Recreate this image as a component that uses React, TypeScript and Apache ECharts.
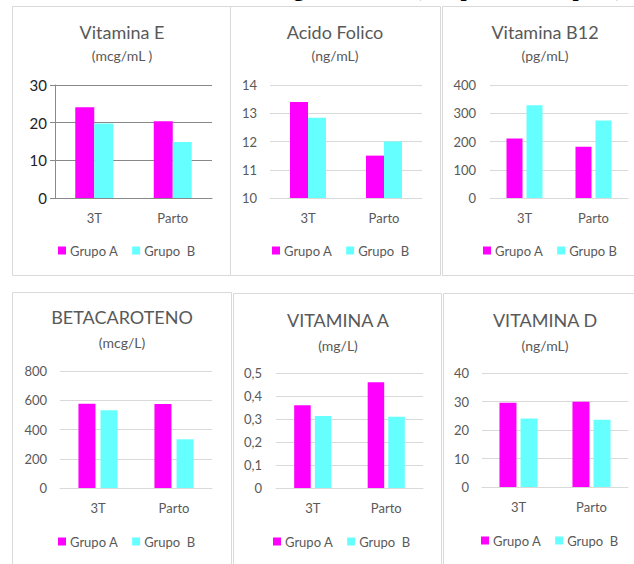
import React, { useEffect, useRef } from "react";
import * as echarts from "echarts";

// ---- data ----
const categories = ["3T", "Parto"];

const vitEGrupoA = [24.1, 20.4];
const vitEGrupoB = [19.8, 14.9];
const vitEAxis = [0, 30, 10]; // min, max, interval

const folicoGrupoA = [13.4, 11.5];
const folicoGrupoB = [12.84, 12.0];
const folicoAxis = [10, 14, 1];

const b12GrupoA = [211, 181];
const b12GrupoB = [328, 274];
const b12Axis = [0, 400, 100];

const betaGrupoA = [576, 574];
const betaGrupoB = [531, 333];
const betaAxis = [0, 800, 200];

const vitAGrupoA = [0.36, 0.46];
const vitAGrupoB = [0.313, 0.31];
const vitAAxis = [0, 0.5, 0.1];

const vitDGrupoA = [29.6, 29.9];
const vitDGrupoB = [24.0, 23.6];
const vitDAxis = [0, 40, 10];

const titles = ["Vitamina E", "Acido Folico", "Vitamina B12", "BETACAROTENO", "VITAMINA A", "VITAMINA D"];
const units = ["(mcg/mL )", "(ng/mL)", "(pg/mL)", "(mcg/L)", "(mg/L)", "(ng/mL)"];
const groupAName = "Grupo A";
const groupBNames = ["Grupo  B", "Grupo  B", "Grupo B", "Grupo  B", "Grupo  B", "Grupo  B"];
const pageTitle = "Niveles de vitaminas en sangre materna (Grupo A vs Grupo B)";

const seriesA = [vitEGrupoA, folicoGrupoA, b12GrupoA, betaGrupoA, vitAGrupoA, vitDGrupoA];
const seriesB = [vitEGrupoB, folicoGrupoB, b12GrupoB, betaGrupoB, vitAGrupoB, vitDGrupoB];
const axes = [vitEAxis, folicoAxis, b12Axis, betaAxis, vitAAxis, vitDAxis];

// ---- layout (positions / styles) ----
const layout = [
  { cx: 122, tY: 32, uY: 55, grid: { left: 55, top: 85, width: 157, height: 113 }, bw: 19, gap: "0%", lx: 53, ly: 239, dark: true, lm: 8, yf: 15 },
  { cx: 335, tY: 32, uY: 55, grid: { left: 270, top: 85, width: 152, height: 113 }, bw: 18, gap: "0%", lx: 267, ly: 239, dark: false, lm: 13, yf: 13 },
  { cx: 545, tY: 32, uY: 55, grid: { left: 490, top: 85, width: 138, height: 113 }, bw: 16, gap: "25%", lx: 478, ly: 239, dark: false, lm: 14, yf: 13 },
  { cx: 122, tY: 317, uY: 342, grid: { left: 60, top: 371, width: 152, height: 117 }, bw: 17, gap: "30%", lx: 53, ly: 530, dark: false, lm: 13, yf: 13 },
  { cx: 338, tY: 320, uY: 345, grid: { left: 276, top: 373, width: 147, height: 115 }, bw: 16.5, gap: "25%", lx: 268, ly: 530, dark: false, lm: 14, yf: 13 },
  { cx: 545, tY: 320, uY: 345, grid: { left: 482, top: 373, width: 146, height: 114 }, bw: 17, gap: "24%", lx: 476, ly: 529, dark: false, lm: 13, yf: 13 },
];

const panelRects = [
  { x: 12, y: 6, w: 218, h: 269 },
  { x: 230, y: 6, w: 210, h: 269 },
  { x: 442, y: 6, w: 200, h: 269 },
  { x: 12, y: 292, w: 219, h: 290 },
  { x: 233, y: 293, w: 208, h: 290 },
  { x: 443, y: 293, w: 200, h: 290 },
];

const MAGENTA = "#FF00FF";
const CYAN = "#66FFFF";
const GRAY = "#595959";
const FONT = "Lato, 'Open Sans', sans-serif";

function fmt(v: number, i: number) {
  if (i === 4) return v === 0 ? "0" : v.toFixed(1).replace(".", ",");
  return String(v);
}

export default function App() {
  const ref = useRef<HTMLDivElement>(null);
  useEffect(() => {
    if (!ref.current) return;
    const chart = echarts.init(ref.current, null, { renderer: "svg" });

    const grids: any[] = [];
    const xAxes: any[] = [];
    const yAxes: any[] = [];
    const series: any[] = [];
    const legends: any[] = [];
    const graphics: any[] = [];

    panelRects.forEach((r) => {
      graphics.push({
        type: "rect",
        shape: { x: r.x + 0.5, y: r.y + 0.5, width: r.w, height: r.h },
        style: { fill: "#fff", stroke: "#d9d9d9", lineWidth: 1 },
        z: -10,
      });
    });

    graphics.push({
      type: "text",
      x: 330,
      y: -1,
      style: {
        text: pageTitle,
        fontFamily: "'Liberation Serif', serif",
        fontWeight: "bold",
        fontSize: 22,
        fill: "#000",
        align: "center",
        textAlign: "center",
        verticalAlign: "bottom",
        textVerticalAlign: "bottom",
      },
    });

    layout.forEach((L, i) => {
      const ax = axes[i];
      const lineCol = L.dark ? "#898989" : "#d9d9d9";
      grids.push({ ...L.grid });
      xAxes.push({
        type: "category",
        gridIndex: i,
        data: categories,
        axisLine: { show: true, lineStyle: { color: lineCol, width: 1 } },
        axisTick: { show: false },
        axisLabel: { color: GRAY, fontSize: 13, fontFamily: FONT, margin: 13 },
      });
      yAxes.push({
        type: "value",
        gridIndex: i,
        min: ax[0],
        max: ax[1],
        interval: ax[2],
        axisLine: { show: L.dark, lineStyle: { color: lineCol } },
        axisTick: { show: L.dark, length: 5, lineStyle: { color: lineCol } },
        splitLine: { show: true, lineStyle: { color: lineCol, width: 1 } },
        axisLabel: {
          color: L.dark ? "#222" : GRAY,
          fontSize: L.yf,
          fontFamily: FONT,
          margin: L.lm,
          formatter: (v: number) => fmt(v, i),
        },
      });
      series.push({
        type: "bar",
        name: groupAName,
        xAxisIndex: i,
        yAxisIndex: i,
        data: seriesA[i],
        barWidth: L.bw,
        barGap: L.gap,
        itemStyle: { color: MAGENTA },
      });
      series.push({
        type: "bar",
        name: groupBNames[i],
        xAxisIndex: i,
        yAxisIndex: i,
        data: seriesB[i],
        barWidth: L.bw,
        barGap: L.gap,
        itemStyle: { color: CYAN },
      });
      legends.push({
        left: L.lx,
        top: L.ly,
        data: [groupAName, groupBNames[i]],
        icon: "rect",
        itemWidth: 8,
        itemHeight: 8,
        itemGap: 14,
        selectedMode: false,
        textStyle: { color: GRAY, fontSize: 13, fontFamily: FONT, padding: [0, 0, 0, -1] },
      });
      graphics.push({
        type: "text",
        x: L.cx,
        y: L.tY,
        style: {
          text: titles[i],
          fontFamily: FONT,
          fontSize: 18,
          fill: GRAY,
          align: "center",
          textAlign: "center",
          verticalAlign: "middle",
          textVerticalAlign: "middle",
        },
      });
      graphics.push({
        type: "text",
        x: L.cx,
        y: L.uY,
        style: {
          text: units[i],
          fontFamily: FONT,
          fontSize: 14,
          fill: GRAY,
          align: "center",
          textAlign: "center",
          verticalAlign: "middle",
          textVerticalAlign: "middle",
        },
      });
    });

    chart.setOption({
      animation: false,
      backgroundColor: "#fff",
      textStyle: { fontFamily: FONT },
      grid: grids,
      xAxis: xAxes,
      yAxis: yAxes,
      legend: legends,
      series,
      graphic: graphics,
    });
    return () => chart.dispose();
  }, []);
  return (
    <div
      ref={ref}
      style={{ position: "absolute", left: 0, top: 0, width: 634, height: 564 }}
    />
  );
}
